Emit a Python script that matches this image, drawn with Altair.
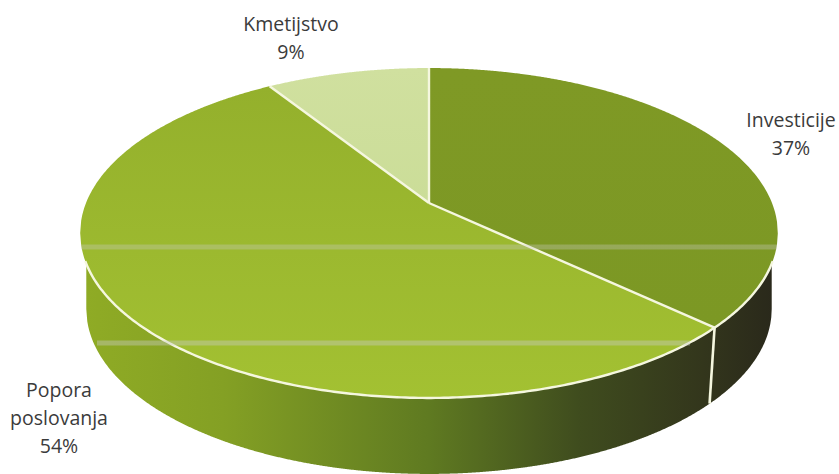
import altair as alt
import numpy as np
import pandas as pd

# Shares of the pie, clockwise from twelve o'clock
categories = ["Investicije", "Popora poslovanja", "Kmetijstvo"]
shares = [37, 54, 9]
slice_tops = ["#7f9925", "#94b02c", "#d0e09f"]
slice_bottoms = ["#7c9824", "#a3c132", "#cbdd98"]

# Label placement: one row per text line
label_lines = [
    ["Investicije", "37%"],
    ["Popora", "poslovanja", "54%"],
    ["Kmetijstvo", "9%"],
]
label_x = [791, 59, 291]
label_y = [121, 391, 25]
LINE_STEP = 28

# Projection of the disc: perspective tilt, centre and half axes
CX, CY, K = 429.0, 203.0, 0.1818
A_TOP, B_TOP = 343.0, 159.5
A_BOTTOM, DEPTH = 337.0, 76.0

W, H = 839, 474
X_SCALE = alt.Scale(domain=[0, W], range=[0, W])
Y_SCALE = alt.Scale(domain=[0, H], range=[0, H])


def rim(theta, a, drop=0.0):
    w = 1 + K * np.cos(theta)
    return CX + a * np.sin(theta) / w, CY + drop - B_TOP * np.cos(theta) / w


def spans(px, py, step=1.0):
    """Upper and lower boundary of a closed outline for each x across it."""
    grid = np.unique(np.concatenate([np.arange(px.min(), px.max(), step), [px.max()]]))
    x0, x1 = px, np.roll(px, -1)
    y0, y1 = py, np.roll(py, -1)
    rows = []
    for x in grid:
        hit = (x0 - x) * (x1 - x) <= 0
        moving = hit & (x0 != x1)
        ys = y0[moving] + (x - x0[moving]) * (y1[moving] - y0[moving]) / (x1[moving] - x0[moving])
        ys = np.concatenate([ys, y0[hit & (x0 == x1)], y1[hit & (x0 == x1)]])
        if len(ys):
            rows.append((x, ys.min(), ys.max()))
    return pd.DataFrame(rows, columns=["x", "upper", "lower"])


def area_layer(frame, fill):
    return alt.Chart(frame).mark_area(fill=fill, clip=True, strokeWidth=0).encode(
        x=alt.X("x:Q", scale=X_SCALE, axis=None),
        y=alt.Y("upper:Q", scale=Y_SCALE, axis=None),
        y2="lower:Q",
    )


def path_layer(px, py, width=2.4):
    frame = pd.DataFrame({"x": px, "y": py, "i": np.arange(len(px))})
    return alt.Chart(frame).mark_line(color="#f5f7df", strokeWidth=width, clip=True).encode(
        x=alt.X("x:Q", scale=X_SCALE, axis=None),
        y=alt.Y("y:Q", scale=Y_SCALE, axis=None),
        order="i:Q",
    )


turn = 2 * np.pi
edges = np.cumsum([0] + shares) / 100 * turn
full = np.linspace(0, turn, 720, endpoint=False)

# Side wall of the disc, lit from the left
top_x, top_y = rim(full, A_TOP)
bottom_x, bottom_y = rim(full, A_BOTTOM, DEPTH)
bottom_span = spans(bottom_x, bottom_y)
top_span = spans(top_x, top_y, 0.5)
wall = pd.DataFrame({
    "x": bottom_span["x"],
    "upper": np.interp(bottom_span["x"], top_span["x"], top_span["lower"]),
    "lower": bottom_span["lower"],
})
wall_fill = alt.Gradient(
    gradient="linear", x1=0, y1=0, x2=1, y2=0,
    stops=[
        alt.GradientStop(offset=0.0, color="#8fab25"),
        alt.GradientStop(offset=0.2, color="#84a024"),
        alt.GradientStop(offset=0.5, color="#5f7a21"),
        alt.GradientStop(offset=0.72, color="#3f4c1e"),
        alt.GradientStop(offset=0.9, color="#33361c"),
        alt.GradientStop(offset=1.0, color="#2a291b"),
    ],
)
layers = [area_layer(wall, wall_fill)]

# Top face slices
for i, share in enumerate(shares):
    count = max(int(share * 8), 2)
    theta = np.linspace(edges[i], edges[i + 1], count)
    rx, ry = rim(theta, A_TOP)
    px = np.concatenate([[CX], rx])
    py = np.concatenate([[CY], ry])
    fill = alt.Gradient(
        gradient="linear", x1=0, y1=0, x2=0, y2=1,
        stops=[
            alt.GradientStop(offset=0, color=slice_tops[i]),
            alt.GradientStop(offset=1, color=slice_bottoms[i]),
        ],
    )
    layers.append(area_layer(spans(px, py), fill))

# Light spokes between the slices and along the front rim
for edge in edges[:3]:
    ex, ey = rim(edge, A_TOP)
    layers.append(path_layer(np.array([CX, ex]), np.array([CY, ey])))
front = np.linspace(np.radians(110), np.radians(250), 240)
fx, fy = rim(front, A_TOP)
layers.append(path_layer(fx, fy))

# Wall seam below the first slice boundary
seam_top = rim(edges[1], A_TOP)
seam_bottom = rim(edges[1], A_BOTTOM, DEPTH)
layers.append(path_layer(np.array([seam_top[0], seam_bottom[0]]),
                         np.array([seam_top[1], seam_bottom[1]]), 2.6))

# Pale scan streaks running across the disc
streaks = pd.DataFrame({"x": [81, 97], "x2": [777, 690], "y": [247, 343], "o": [0.34, 0.42]})
layers.append(
    alt.Chart(streaks).mark_rule(color="#c9cbc4", size=5).encode(
        x=alt.X("x:Q", scale=X_SCALE, axis=None),
        x2="x2:Q",
        y=alt.Y("y:Q", scale=Y_SCALE, axis=None),
        opacity=alt.Opacity("o:Q", scale=None),
    )
)

# Slice labels
rows = []
for lines, lx, ly in zip(label_lines, label_x, label_y):
    for n, line in enumerate(lines):
        rows.append({"text": line, "x": lx, "y": ly + n * LINE_STEP})
layers.append(
    alt.Chart(pd.DataFrame(rows)).mark_text(
        font="Open Sans", fontSize=19.5, color="#3b3b3b", align="center", baseline="middle"
    ).encode(
        x=alt.X("x:Q", scale=X_SCALE, axis=None),
        y=alt.Y("y:Q", scale=Y_SCALE, axis=None),
        text="text:N",
    )
)

chart = (
    alt.layer(*layers)
    .properties(width=W, height=H, padding=0, autosize=alt.AutoSizeParams(type="none"), background="#ffffff")
    .configure_view(stroke=None)
)

chart.save("out.html", embed_options={"renderer": "svg", "actions": False})
